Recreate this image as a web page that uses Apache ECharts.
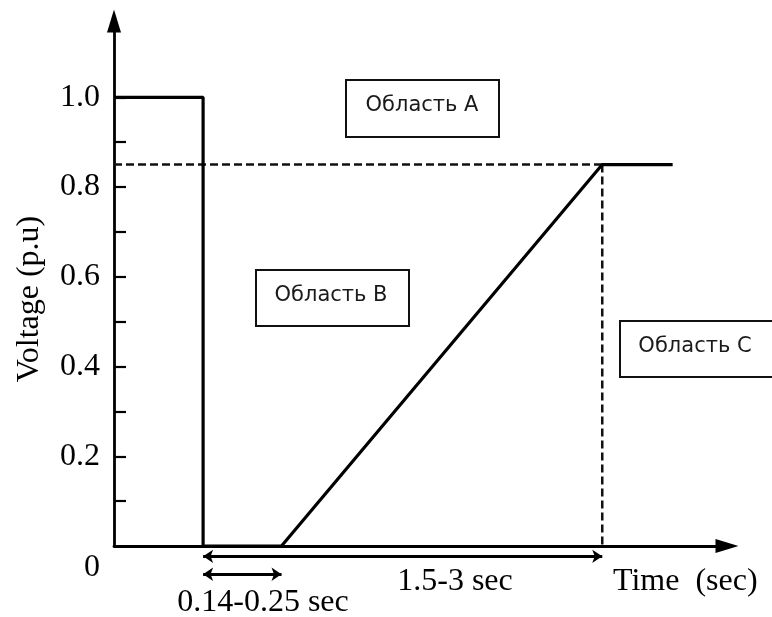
<!DOCTYPE html>
<html>
<head>
<meta charset="utf-8">
<script src="https://cdn.jsdelivr.net/npm/echarts@6/dist/echarts.min.js"></script>
<style>
html,body{margin:0;padding:0;background:#fff;}
#chart{width:772px;height:617px;}
</style>
</head>
<body>
<div id="chart"></div>
<script>
// ---- data ----
const timeX   = [0, 1, 1, 1.88, 5.48, 6.27];      // relative time points of the curve
const voltage = [1.0, 1.0, 0, 0, 0.85, 0.85];     // p.u.
const thresholdV = 0.85;                          // dashed threshold
const recoveryT = 5.48;                           // end of the ramp
const faultT = 1.0;                               // voltage drop time
const rampStartT = 1.88;                          // start of the ramp
const yTickValues  = [0.1, 0.2, 0.3, 0.4, 0.5, 0.6, 0.7, 0.8, 0.9, 1.0];
const yLabelValues = [0.2, 0.4, 0.6, 0.8, 1.0];
const regionLabels = ['Область A', 'Область B', 'Область C'];
const spanLabels = ['0.14-0.25 sec', '1.5-3 sec'];
const xName = 'Time  (sec)';
const yName = 'Voltage (p.u)';

const curve = timeX.map((t, i) => [t, voltage[i]]);
const serif = '"Liberation Serif", "Times New Roman", serif';
const sans = '"DejaVu Sans", Verdana, sans-serif';

const chart = echarts.init(document.getElementById('chart'));

function boxes() {
  const rects = [
    {x: 346, y: 80, w: 153, h: 57, tx: 422, ty: 106},
    {x: 256, y: 270, w: 153, h: 56, tx: 331, ty: 296},
    {x: 620, y: 321, w: 160, h: 56, tx: 695, ty: 347}
  ];
  const out = [];
  rects.forEach((r, i) => {
    out.push({type: 'rect', shape: {x: r.x, y: r.y, width: r.w, height: r.h},
      style: {fill: '#fff', stroke: '#111', lineWidth: 2}, z: 10});
    out.push({type: 'text', x: r.tx, y: r.ty, z: 11,
      style: {text: regionLabels[i], font: '21px ' + sans, fill: '#1a1a1a',
        align: 'center', verticalAlign: 'middle'}});
  });
  return out;
}

const option = {
  animation: false,
  backgroundColor: '#fff',
  grid: {left: 114, right: 45, top: 21, bottom: 71, outerBoundsMode: 'none', containLabel: false},
  xAxis: {
    type: 'value', min: 0, max: 6.88,
    axisLine: {show: true, onZero: false, lineStyle: {color: '#000', width: 2.8},
      symbol: ['none', 'triangle'], symbolSize: [14, 23]},
    axisTick: {show: false}, axisLabel: {show: false}, splitLine: {show: false}
  },
  yAxis: {
    type: 'value', min: 0, max: 1.17,
    axisLine: {show: true, lineStyle: {color: '#000', width: 2.8},
      symbol: ['none', 'triangle'], symbolSize: [14, 23]},
    axisTick: {show: true, inside: true, length: 12, customValues: yTickValues,
      lineStyle: {color: '#000', width: 2.2}},
    axisLabel: {show: true, customValues: yLabelValues, margin: 14,
      formatter: v => v.toFixed(1), color: '#000', fontFamily: serif, fontSize: 32},
    splitLine: {show: false}
  },
  series: [
    {
      type: 'line', data: curve, symbol: 'none', z: 5,
      lineStyle: {color: '#000', width: 3.2}
    },
    {
      type: 'line', data: [[0, thresholdV], [recoveryT, thresholdV]], symbol: 'none', z: 4,
      lineStyle: {color: '#111', width: 2.5, type: [8, 4]}
    },
    {
      type: 'line', data: [[recoveryT, thresholdV], [recoveryT, 0]], symbol: 'none', z: 4,
      lineStyle: {color: '#111', width: 2.5, type: [8, 4]}
    },
    {
      type: 'lines', coordinateSystem: 'cartesian2d', clip: false, z: 6,
      symbol: ['arrow', 'arrow'], symbolSize: 10,
      lineStyle: {color: '#000', width: 2.8, opacity: 1},
      data: [
        {coords: [[faultT, -0.023], [recoveryT, -0.023]]},
        {coords: [[faultT, -0.063], [rampStartT, -0.063]]}
      ]
    }
  ],
  graphic: [
    {type: 'text', x: 92, y: 568, style: {text: '0', font: '32px ' + serif, fill: '#000', align: 'center', verticalAlign: 'middle'}},
    {type: 'text', x: 30, y: 299, rotation: Math.PI / 2,
      style: {text: yName, font: '32px ' + serif, fill: '#000', align: 'center', verticalAlign: 'middle'}},
    {type: 'text', x: 263, y: 603, style: {text: spanLabels[0], font: '32px ' + serif, fill: '#000', align: 'center', verticalAlign: 'middle'}},
    {type: 'text', x: 455, y: 582, style: {text: spanLabels[1], font: '32px ' + serif, fill: '#000', align: 'center', verticalAlign: 'middle'}},
    {type: 'text', x: 613, y: 582, style: {text: xName, font: '32px ' + serif, fill: '#000', align: 'left', verticalAlign: 'middle'}}
  ].concat(boxes())
};
chart.setOption(option);
</script>
</body>
</html>
